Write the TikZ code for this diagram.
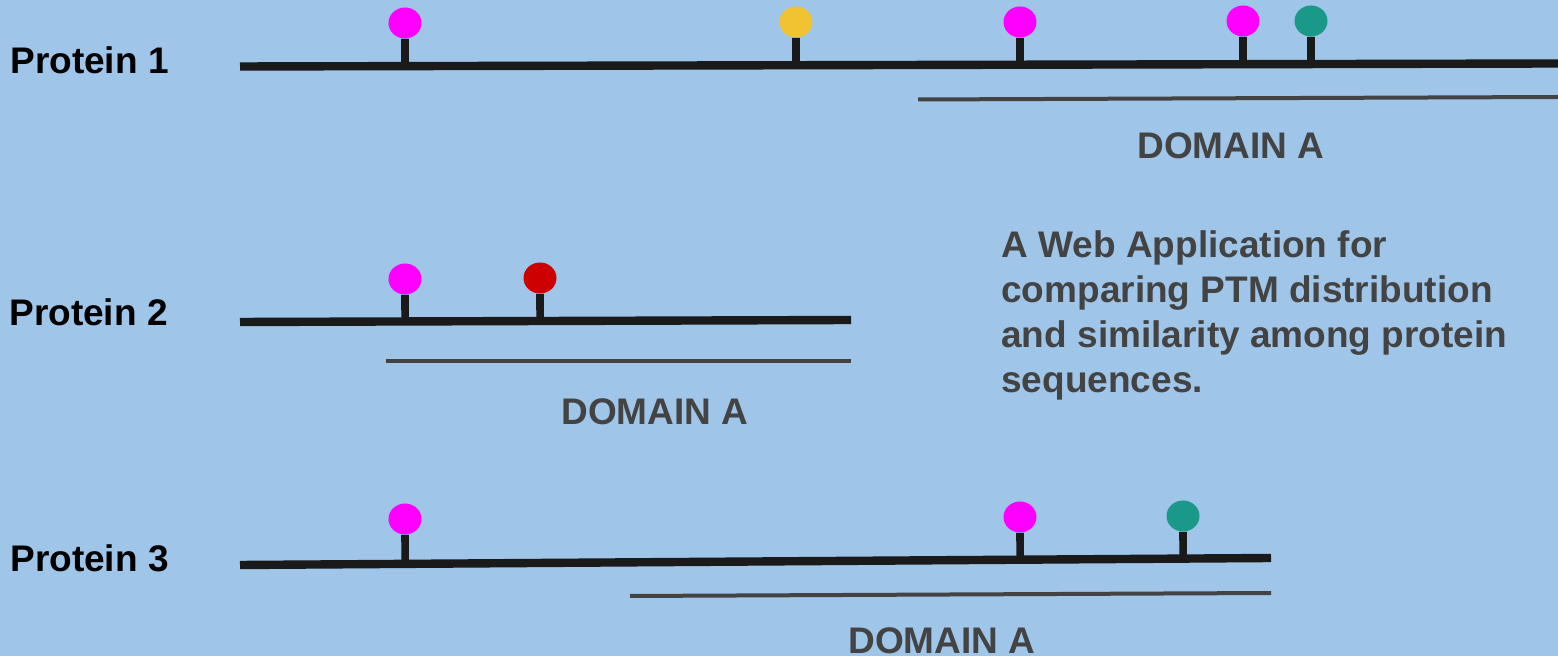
\documentclass[tikz,border=0pt]{standalone}
\usepackage{fontspec}
\setmainfont{Liberation Sans}
\usetikzlibrary{shapes.geometric,calc}
\definecolor{bgblue}{HTML}{9FC5E8}
\definecolor{ink}{HTML}{1A1A1A}
\definecolor{dgray}{HTML}{434343}
\definecolor{pmag}{HTML}{FF00FF}
\definecolor{pyel}{HTML}{F1C232}
\definecolor{pteal}{HTML}{1A9988}
\definecolor{pred}{HTML}{CC0000}
\tikzset{
  ptm/.style={ellipse, inner sep=0pt, minimum width=16.5pt, minimum height=15.5pt, fill=#1},
  stemline/.style={draw=ink, line width=3.8pt},
  chain/.style={draw=ink, line width=4.2pt},
  domline/.style={draw=dgray, line width=2pt},
  plabel/.style={anchor=base west, inner sep=0pt, font=\bfseries\fontsize{18.5}{22}\selectfont, text=black},
  dlabel/.style={anchor=base, inner sep=0pt, font=\bfseries\fontsize{18.5}{22}\selectfont, text=dgray},
}
\begin{document}
\begin{tikzpicture}[x=0.5pt, y=-0.5pt]
\useasboundingbox (0,0) rectangle (1558,656);
\fill[bgblue] (0,0) rectangle (1558,656);

% labels
\node[plabel] (lab1) at (10,74) {Protein 1};
\node[plabel] (lab2) at (9,326) {Protein 2};
\node[plabel] (lab3) at (10,572) {Protein 3};

% chain end points
\coordinate (p1s) at (240,66.5);  \coordinate (p1e) at (1558,63.5);
\coordinate (d1s) at (918,99.5);  \coordinate (d1e) at (1558,97);
\coordinate (p2s) at (240,322);   \coordinate (p2e) at (851,320);
\coordinate (d2s) at (386,361);   \coordinate (d2e) at (851,361);
\coordinate (p3s) at (240,565);   \coordinate (p3e) at (1271,558);
\coordinate (d3s) at (630,596);   \coordinate (d3e) at (1271,593);

% PTM circles
\node[ptm=pmag]  (a1) at (405,23) {};
\node[ptm=pyel]  (a2) at (796,22) {};
\node[ptm=pmag]  (a3) at (1020,22) {};
\node[ptm=pmag]  (a4) at (1243,21) {};
\node[ptm=pteal] (a5) at (1311,21) {};
\node[ptm=pmag]  (b1) at (405,279) {};
\node[ptm=pred]  (b2) at (540,278) {};
\node[ptm=pmag]  (c1) at (405,519) {};
\node[ptm=pmag]  (c2) at (1020,517) {};
\node[ptm=pteal] (c3) at (1183,516) {};

% stems
\foreach \n in {a1,a2,a3,a4,a5}
  \draw[stemline] (\n.south) -- ($(p1s)!(\n.south)!(p1e)$);
\foreach \n in {b1,b2}
  \draw[stemline] (\n.south) -- ($(p2s)!(\n.south)!(p2e)$);
\foreach \n in {c1,c2,c3}
  \draw[stemline] (\n.south) -- ($(p3s)!(\n.south)!(p3e)$);

% chains and domains
\draw[chain] (p1s) -- (p1e);
\draw[domline] (d1s) -- (d1e);
\draw[chain] (p2s) -- (p2e);
\draw[domline] (d2s) -- (d2e);
\draw[chain] (p3s) -- (p3e);
\draw[domline] (d3s) -- (d3e);

% domain labels
\node[dlabel] (dom1) at (1231,159) {DOMAIN A};
\node[dlabel] (dom2) at (655,425) {DOMAIN A};
\node[dlabel] (dom3) at (942,654) {DOMAIN A};

% title
\node[anchor=north west, inner sep=0pt, align=left, text=dgray,
      font=\bfseries\fontsize{18.5}{22.5}\selectfont] (title) at (1001,230)
  {A Web Application for\\comparing PTM distribution\\and similarity among protein\\sequences.};
\end{tikzpicture}
\end{document}
